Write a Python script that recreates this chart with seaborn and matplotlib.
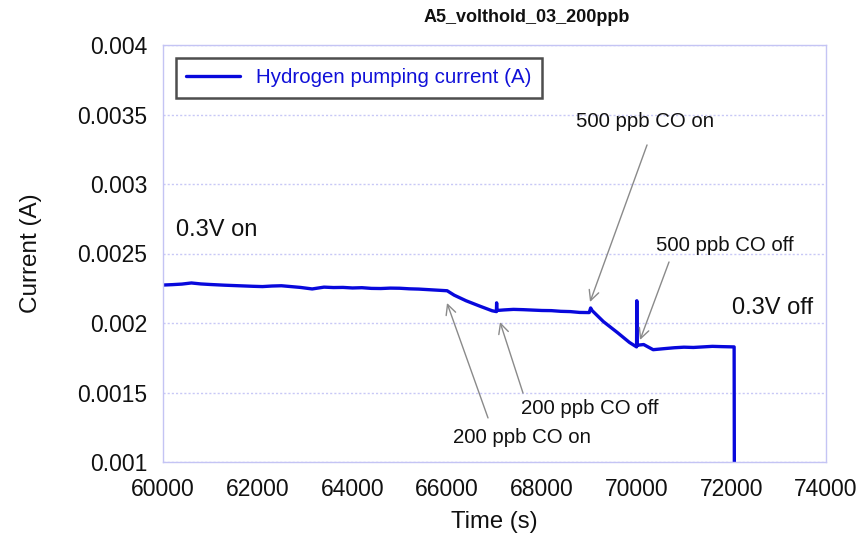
import matplotlib
matplotlib.use("Agg")
import matplotlib.pyplot as plt
import seaborn as sns
import pandas as pd

# ---- data ----
time_s = [60000, 60200, 60400, 60600, 60800, 61000, 61300, 61600, 61900, 62100,
          62300, 62500, 62700, 62900, 63150, 63400, 63600, 63800, 64000, 64200,
          64400, 64600, 64800, 65000, 65200, 65400, 65600, 65800, 66000, 66150,
          66400, 66700, 66950, 67040, 67045, 67050, 67200, 67400, 67600, 67800,
          68000, 68200, 68400, 68600, 68800, 69000, 69030, 69060, 69300, 69600,
          69850, 70000, 70005, 70010, 70150, 70350, 70600, 70800, 71000, 71200,
          71400, 71600, 71800, 72060, 72065]
current_a = [0.002273, 0.002276, 0.002280, 0.002288, 0.002281, 0.002277, 0.002272, 0.002268, 0.002264, 0.002262,
             0.002266, 0.002268, 0.002262, 0.002256, 0.002245, 0.002258, 0.002255, 0.002256, 0.002252, 0.002254,
             0.002249, 0.002248, 0.002251, 0.002250, 0.002246, 0.002244, 0.002240, 0.002236, 0.002232, 0.002200,
             0.002160, 0.002120, 0.002088, 0.002082, 0.002145, 0.002090, 0.002094, 0.002098, 0.002096, 0.002093,
             0.002090, 0.002089, 0.002084, 0.002082, 0.002076, 0.002075, 0.002108, 0.002090, 0.002010, 0.001930,
             0.001860, 0.001828, 0.002160, 0.001840, 0.001845, 0.001808, 0.001816, 0.001822, 0.001826, 0.001824,
             0.001828, 0.001832, 0.001830, 0.001828, 0.000900]

x_ticks = [60000, 62000, 64000, 66000, 68000, 70000, 72000, 74000]
x_tick_labels = ["60000", "62000", "64000", "66000", "68000", "70000", "72000", "74000"]
y_ticks = [0.001, 0.0015, 0.002, 0.0025, 0.003, 0.0035, 0.004]
y_tick_labels = ["0.001", "0.0015", "0.002", "0.0025", "0.003", "0.0035", "0.004"]

series_name = "Hydrogen pumping current (A)"
title = "A5_volthold_03_200ppb"

# annotations: (text, text_x, text_y, arrow_tail_x, arrow_tail_y, head_x, head_y)
annotations = [
    ("200 ppb CO on", 67581, 0.001173, 66863, 0.001317, 65997, 0.002144),
    ("200 ppb CO off", 69017, 0.001388, 67602, 0.001496, 67116, 0.002007),
    ("500 ppb CO on", 70178, 0.003453, 70221, 0.003281, 69017, 0.002151),
    ("500 ppb CO off", 71867, 0.002561, 70685, 0.002439, 70073, 0.001878),
]
plain_labels = [("0.3V on", 60275, 0.002669), ("0.3V off", 72015, 0.002108)]

# ---- plot ----
sns.set_theme(style="white")
plt.rcParams["font.family"] = ["Liberation Sans", "DejaVu Sans"]

df = pd.DataFrame({"t": time_s, "i": current_a})

fig = plt.figure(figsize=(8.68, 5.36), dpi=100)
ax = fig.add_axes([163 / 868, 1 - 462 / 536, (826 - 163) / 868, (462 - 45) / 536])

sns.lineplot(data=df, x="t", y="i", ax=ax, sort=False, estimator=None,
             color="#0808dc", linewidth=2.4, label=series_name)

ax.set_xlim(60000, 74000)
ax.set_ylim(0.001, 0.004)
ax.set_xticks(x_ticks)
ax.set_xticklabels(x_tick_labels)
ax.set_yticks(y_ticks)
ax.set_yticklabels(y_tick_labels)

frame_col = "#c4c4f4"
for s in ax.spines.values():
    s.set_color(frame_col)
    s.set_linewidth(1.0)
ax.yaxis.grid(True, color="#c8c8f6", linestyle=(0, (1.5, 1.5)), linewidth=1.0)
ax.xaxis.grid(False)
ax.tick_params(axis="both", direction="in", length=5, color=frame_col,
               labelsize=16.5, labelcolor="#111111")
ax.tick_params(axis="x", pad=11.5)
ax.tick_params(axis="y", pad=11.5)

ax.set_xlabel("Time (s)", fontsize=17.2, color="#111111", labelpad=7)
ax.set_ylabel("Current (A)", fontsize=17.5, color="#111111", labelpad=25)
fig.text(527 / 868, 1 - 18 / 536, title, ha="center", va="center",
         fontsize=13, fontweight="bold", color="#111111")

leg = ax.legend(loc="upper left", bbox_to_anchor=((176 - 163) / 663, 1 - (58 - 45) / 417),
                frameon=True, fancybox=False, fontsize=14.8, borderaxespad=0,
                handlelength=2.6, borderpad=0.5)
leg.get_frame().set_edgecolor("#222222")
leg.get_frame().set_linewidth(1.8)
for txt in leg.get_texts():
    txt.set_color("#1010d8")

for text, tx, ty, ax0, ay0, hx, hy in annotations:
    ax.text(tx, ty, text, ha="center", va="center", fontsize=14.7, color="#111111")
    ax.annotate("", xy=(hx, hy), xytext=(ax0, ay0),
                arrowprops=dict(arrowstyle="->", color="#8a8a8a", lw=1.0,
                                mutation_scale=18, shrinkA=0, shrinkB=0))
for text, tx, ty in plain_labels:
    ax.text(tx, ty, text, ha="left", va="center", fontsize=17, color="#111111")

fig.savefig("out.png", dpi=100)
